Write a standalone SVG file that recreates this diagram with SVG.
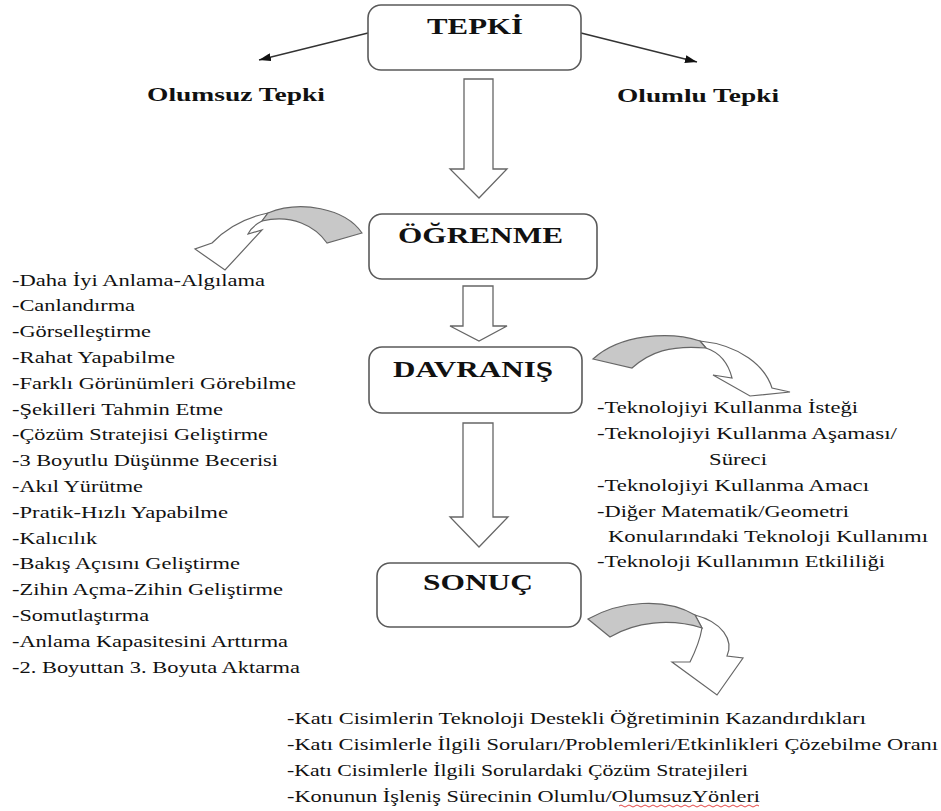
<svg xmlns="http://www.w3.org/2000/svg" width="941" height="811" viewBox="0 0 941 811">
<style>
.box{fill:#fff;stroke:#5a5a5a;stroke-width:1.6}
.title{font-family:"Liberation Serif",serif;font-weight:bold;font-size:23px;fill:#111}
.sub{font-family:"Liberation Serif",serif;font-weight:bold;font-size:19px;fill:#111}
.item{font-family:"Liberation Serif",serif;font-size:16px;fill:#111}
.blk{fill:#fff;stroke:#666;stroke-width:1.3;stroke-linejoin:miter}
.gray{fill:#c8c8c8;stroke:#666;stroke-width:1.2}
.wht{fill:#fff;stroke:#666;stroke-width:1.2}
.line{stroke:#333;stroke-width:1.3;fill:none}
</style>
<defs>
<marker id="ah" markerUnits="userSpaceOnUse" markerWidth="12" markerHeight="8" refX="12" refY="4" orient="auto">
<path d="M0,0 L12,4 L0,8 z" fill="#111"/>
</marker>
</defs>

<g id="connectors">
<line class="line" x1="368" y1="33" x2="259" y2="60" marker-end="url(#ah)"/>
<line class="line" x1="581" y1="33" x2="697" y2="62" marker-end="url(#ah)"/>
<path class="blk" d="M464,79 L493,79 L493,169 L507,169 L479,198 L450,169 L464,169 Z"/>
<path class="blk" d="M463,286 L493,286 L493,326 L507,326 L479,341 L450,326 L463,326 Z"/>
<path class="blk" d="M463,423 L493,423 L493,517 L508,517 L479,547 L450,517 L463,517 Z"/>
<g id="curve-ogrenme">
<path class="wht" d="M268,213 Q234,220 212,243 L195,249 L225,270 L262,230 L248,234 Q252,226 262,221 Z"/>
<path class="gray" d="M362,233 C345,208 300,200 268,213 L262,221 C292,214 315,226 327,243 Z"/>
</g>
<g id="curve-davranis">
<path class="wht" d="M700,341 C740,345 765,366 772,388 L790,392 L750,396 L713,375 L732,378 C728,362 718,352 706,348 Z"/>
<path class="gray" d="M593,359 C620,334 670,331 700,341 L706,348 C670,345 650,352 632,368 Z"/>
</g>
<g id="curve-sonuc">
<path class="wht" d="M695,615 C722,622 734,640 727,656 L743,658 L717,695 L672,662 L690,662 C696,650 700,640 702,628 Z"/>
<path class="gray" d="M588,619 C620,601 665,597 695,615 L702,628 C670,618 635,622 610,637 Z"/>
</g>
</g>

<g id="node-tepki">
<rect class="box" x="368" y="5" width="213" height="65" rx="13"/>
<text class="title" x="427" y="34" textLength="96" lengthAdjust="spacingAndGlyphs">TEPKİ</text>
</g>
<g id="node-olumsuz">
<text class="sub" x="147" y="101" textLength="178" lengthAdjust="spacingAndGlyphs">Olumsuz Tepki</text>
</g>
<g id="node-olumlu">
<text class="sub" x="617" y="102" textLength="162" lengthAdjust="spacingAndGlyphs">Olumlu Tepki</text>
</g>
<g id="node-ogrenme">
<rect class="box" x="369" y="214" width="228" height="65" rx="13"/>
<text class="title" x="398" y="243" textLength="165" lengthAdjust="spacingAndGlyphs">ÖĞRENME</text>
</g>
<g id="node-davranis">
<rect class="box" x="369" y="347" width="213" height="66" rx="13"/>
<text class="title" x="393" y="377" textLength="160" lengthAdjust="spacingAndGlyphs">DAVRANIŞ</text>
</g>
<g id="node-sonuc">
<rect class="box" x="377" y="563" width="204" height="64" rx="13"/>
<text class="title" x="423" y="590" textLength="110" lengthAdjust="spacingAndGlyphs">SONUÇ</text>
</g>

<g id="list-ogrenme">
<text class="item" x="12" y="285.5" textLength="253" lengthAdjust="spacingAndGlyphs">-Daha İyi Anlama-Algılama</text>
<text class="item" x="12" y="311.3" textLength="123" lengthAdjust="spacingAndGlyphs">-Canlandırma</text>
<text class="item" x="12" y="337.1" textLength="139" lengthAdjust="spacingAndGlyphs">-Görselleştirme</text>
<text class="item" x="12" y="362.9" textLength="163" lengthAdjust="spacingAndGlyphs">-Rahat Yapabilme</text>
<text class="item" x="12" y="388.7" textLength="284" lengthAdjust="spacingAndGlyphs">-Farklı Görünümleri Görebilme</text>
<text class="item" x="12" y="414.5" textLength="211" lengthAdjust="spacingAndGlyphs">-Şekilleri Tahmin Etme</text>
<text class="item" x="12" y="440.3" textLength="256" lengthAdjust="spacingAndGlyphs">-Çözüm Stratejisi Geliştirme</text>
<text class="item" x="12" y="466.1" textLength="266" lengthAdjust="spacingAndGlyphs">-3 Boyutlu Düşünme Becerisi</text>
<text class="item" x="12" y="491.9" textLength="131" lengthAdjust="spacingAndGlyphs">-Akıl Yürütme</text>
<text class="item" x="12" y="517.7" textLength="216" lengthAdjust="spacingAndGlyphs">-Pratik-Hızlı Yapabilme</text>
<text class="item" x="12" y="543.5" textLength="85" lengthAdjust="spacingAndGlyphs">-Kalıcılık</text>
<text class="item" x="12" y="569.3" textLength="228" lengthAdjust="spacingAndGlyphs">-Bakış Açısını Geliştirme</text>
<text class="item" x="12" y="595.1" textLength="271" lengthAdjust="spacingAndGlyphs">-Zihin Açma-Zihin Geliştirme</text>
<text class="item" x="12" y="620.9" textLength="137" lengthAdjust="spacingAndGlyphs">-Somutlaştırma</text>
<text class="item" x="12" y="646.7" textLength="276" lengthAdjust="spacingAndGlyphs">-Anlama Kapasitesini Arttırma</text>
<text class="item" x="12" y="672.5" textLength="288" lengthAdjust="spacingAndGlyphs">-2. Boyuttan 3. Boyuta Aktarma</text>
</g>

<g id="list-davranis">
<text class="item" x="597" y="413.3" textLength="261" lengthAdjust="spacingAndGlyphs">-Teknolojiyi Kullanma İsteği</text>
<text class="item" x="597" y="439.3" textLength="300" lengthAdjust="spacingAndGlyphs">-Teknolojiyi Kullanma Aşaması/</text>
<text class="item" x="709" y="465" textLength="58" lengthAdjust="spacingAndGlyphs">Süreci</text>
<text class="item" x="597" y="490.7" textLength="272" lengthAdjust="spacingAndGlyphs">-Teknolojiyi Kullanma Amacı</text>
<text class="item" x="597" y="516.7" textLength="252" lengthAdjust="spacingAndGlyphs">-Diğer Matematik/Geometri</text>
<text class="item" x="608" y="541.7" textLength="320" lengthAdjust="spacingAndGlyphs">Konularındaki Teknoloji Kullanımı</text>
<text class="item" x="597" y="567.3" textLength="288" lengthAdjust="spacingAndGlyphs">-Teknoloji Kullanımın Etkililiği</text>
</g>

<g id="list-sonuc">
<text class="item" x="287" y="724" textLength="579" lengthAdjust="spacingAndGlyphs">-Katı Cisimlerin Teknoloji Destekli Öğretiminin Kazandırdıkları</text>
<text class="item" x="287" y="750" textLength="651" lengthAdjust="spacingAndGlyphs">-Katı Cisimlerle İlgili Soruları/Problemleri/Etkinlikleri Çözebilme Oranı</text>
<text class="item" x="287" y="776" textLength="461" lengthAdjust="spacingAndGlyphs">-Katı Cisimlerle İlgili Sorulardaki Çözüm Stratejileri</text>
<text class="item" x="287" y="802" textLength="473" lengthAdjust="spacingAndGlyphs">-Konunun İşleniş Sürecinin Olumlu/OlumsuzYönleri</text>
<path d="M619,806 q2,-2 4,0 t4,0 t4,0 t4,0 t4,0 t4,0 t4,0 t4,0 t4,0 t4,0 t4,0 t4,0 t4,0 t4,0 t4,0 t4,0 t4,0 t4,0 t4,0 t4,0 t4,0 t4,0 t4,0 t4,0 t4,0 t4,0 t4,0 t4,0 t4,0 t4,0 t4,0 t4,0 t4,0 t4,0 t4,0" fill="none" stroke="#e03030" stroke-width="0.9"/>
</g>
</svg>
